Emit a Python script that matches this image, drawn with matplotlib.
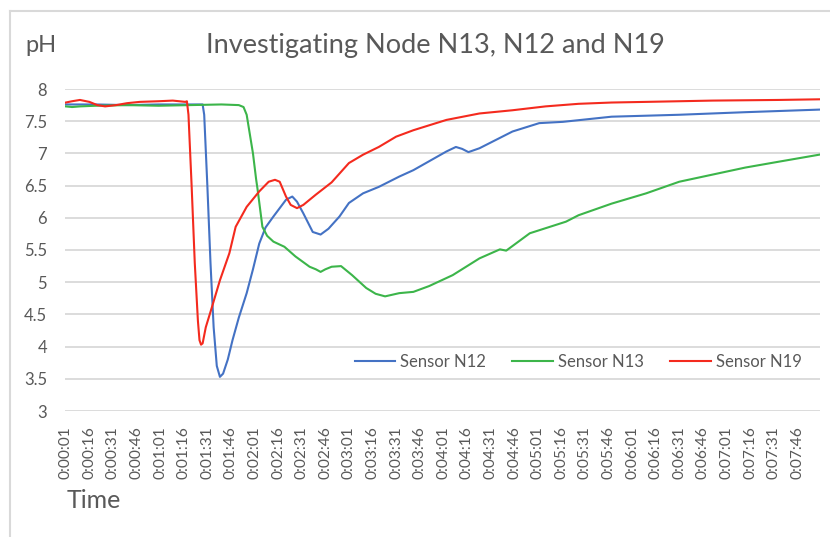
import numpy as np
import matplotlib
matplotlib.use('Agg')
import matplotlib.pyplot as plt
from matplotlib.lines import Line2D

plt.rcParams['font.family'] = ['Lato', 'DejaVu Sans']

grey_text = '#595959'
grid_col = '#d9d9d9'

# seconds since start, pH readings
n12_t = [1, 20, 40, 60, 80, 88, 89, 91, 93, 95, 97, 99, 101, 104, 107, 111, 116, 120, 124, 128, 133,
         141, 145, 148, 152, 158, 163, 168, 175, 181, 190, 200, 213, 222, 243, 249, 253, 257, 264,
         285, 302, 317, 348, 391, 433, 480]
n12_ph = [7.76, 7.76, 7.75, 7.76, 7.76, 7.76, 7.6, 6.5, 5.3, 4.3, 3.7, 3.53, 3.58, 3.8, 4.1, 4.45, 4.83,
          5.2, 5.6, 5.85, 6.02, 6.28, 6.33, 6.25, 6.07, 5.78, 5.74, 5.83, 6.02, 6.23, 6.38, 6.48, 6.64,
          6.74, 7.03, 7.10, 7.07, 7.02, 7.08, 7.34, 7.47, 7.49, 7.57, 7.6, 7.64, 7.68]

n13_t = [1, 5, 10, 20, 40, 60, 80, 100, 111, 114, 116, 118, 120, 122, 123, 126, 129, 133, 140, 147,
         156, 160, 163, 166, 170, 176, 183, 192, 198, 204, 213, 222, 232, 247, 264, 277, 281, 296,
         319, 327, 348, 370, 391, 412, 433, 454, 480]
n13_ph = [7.73, 7.72, 7.73, 7.74, 7.75, 7.74, 7.75, 7.76, 7.75, 7.72, 7.6, 7.3, 7.0, 6.6, 6.43, 5.86,
          5.72, 5.63, 5.55, 5.40, 5.24, 5.2, 5.16, 5.2, 5.24, 5.25, 5.11, 4.91, 4.82, 4.78, 4.83, 4.85,
          4.94, 5.11, 5.37, 5.51, 5.49, 5.76, 5.94, 6.04, 6.22, 6.38, 6.56, 6.67, 6.78, 6.87, 6.98]

n19_t = [1, 5, 10, 16, 21, 26, 33, 40, 48, 60, 69, 77, 78, 79, 81, 83, 85, 86, 87, 88, 90, 94, 99,
         105, 109, 116, 124, 130, 134, 137, 141, 144, 148, 152, 160, 170, 181, 190, 200, 211, 222,
         243, 264, 285, 306, 327, 348, 370, 412, 454, 480]
n19_ph = [7.79, 7.81, 7.83, 7.80, 7.75, 7.73, 7.75, 7.78, 7.80, 7.81, 7.82, 7.80, 7.81, 7.6, 6.5, 5.3,
          4.4, 4.1, 4.03, 4.05, 4.3, 4.62, 5.03, 5.45, 5.86, 6.17, 6.41, 6.56, 6.59, 6.56, 6.33, 6.2,
          6.15, 6.2, 6.36, 6.55, 6.85, 6.98, 7.1, 7.26, 7.36, 7.52, 7.62, 7.67, 7.73, 7.77, 7.79,
          7.80, 7.82, 7.83, 7.84]

tick_secs = list(range(1, 481, 15))
tick_labels = ['%d:%02d:%02d' % (s // 3600, (s // 60) % 60, s % 60) for s in tick_secs]

fig = plt.figure(figsize=(8.3, 5.37), dpi=100)
ax = fig.add_axes([65/830, 1-411/537, 755/830, 322/537])

ax.plot(n12_t, n12_ph, color='#4472c4', lw=1.5, label='Sensor N12')
ax.plot(n13_t, n13_ph, color='#3cb54a', lw=1.5, label='Sensor N13')
ax.plot(n19_t, n19_ph, color='#f42a1e', lw=1.5, label='Sensor N19')

ax.set_xlim(0.5, 480.5)
ax.set_ylim(3, 8)
ax.set_yticks(np.arange(3, 8.01, 0.5))
ax.set_yticklabels(['%g' % v for v in np.arange(3, 8.01, 0.5)], color=grey_text, fontsize=12)
ax.set_xticks(tick_secs)
ax.set_xticklabels(tick_labels, rotation=90, color=grey_text, fontsize=11.2)
ax.tick_params(axis='x', length=0, pad=11)
ax.tick_params(axis='y', length=0, pad=13)
ax.yaxis.grid(True, color=grid_col, lw=1.3)
ax.set_axisbelow(True)
for sp in ax.spines.values():
    sp.set_visible(False)

ax.legend(loc='center', bbox_to_anchor=((578-65)/755, (411-362)/322), ncol=3, frameon=False,
          fontsize=12, labelcolor=grey_text, handlelength=2.45, columnspacing=1.55, handletextpad=0.3)

fig.text(435/830, 1-46/537, 'Investigating Node N13, N12 and N19', ha='center', va='center',
         fontsize=19.5, color=grey_text)
fig.text(25/830, 1-46/537, 'pH', ha='left', va='center', fontsize=17, color=grey_text)
fig.text(67/830, 1-501/537, 'Time', ha='left', va='center', fontsize=18, color=grey_text)

# outer chart frame (left and top edges show)
fig.add_artist(Line2D([10/830, 10/830], [0, 1-11/537], color=grid_col, lw=1.5))
fig.add_artist(Line2D([10/830, 1], [1-11/537, 1-11/537], color=grid_col, lw=1.5))

fig.savefig('out.png', dpi=100)
